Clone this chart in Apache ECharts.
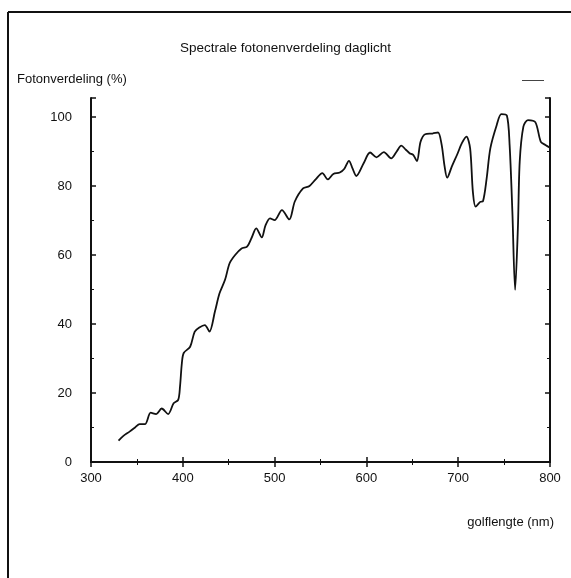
<!DOCTYPE html>
<html>
<head>
<meta charset="utf-8">
<script src="https://cdn.jsdelivr.net/npm/echarts@6/dist/echarts.min.js"></script>
<style>
  html, body { margin: 0; padding: 0; background: #fff; }
  #chart { width: 571px; height: 578px; }
</style>
</head>
<body>
<div id="chart"></div>
<script>
// wavelength (nm) and relative photon distribution (%)
const wavelengths = [
  330, 335, 342, 348, 353, 359, 365, 371, 377, 384, 390, 395, 397, 399, 401,
  408, 413, 418, 424, 429, 435, 440, 446, 451, 457, 464, 470, 475, 480, 486,
  490, 495, 500, 508, 516, 522, 531, 538, 545, 552, 558, 564, 571, 576, 581,
  585, 589, 597, 604, 611, 619, 627, 633, 638, 643, 647, 651, 655, 659, 664,
  672, 678, 682, 685, 688, 693, 699, 704, 709, 713, 716, 719, 724, 727, 731,
  735, 742, 747, 753, 756, 759, 762, 765, 767, 771, 776, 784, 790, 795, 800
];
const photonValues = [
  6.2, 7.5, 8.8, 10, 11, 11, 14.3, 13.9, 15.5, 13.9, 17, 18, 22, 28.7, 31.6,
  33.4, 37.8, 39, 39.7, 37.8, 43.6, 48.9, 52.8, 57.6, 60, 61.9, 62.4, 65, 67.7, 65.1,
  68.5, 70.6, 70.1, 73, 70.3, 75.5, 79.3, 80, 82, 83.7, 81.9, 83.5, 83.9, 85, 87.3,
  85, 82.9, 86.6, 89.7, 88.3, 89.8, 88, 90, 91.7, 90.5, 89.5, 89, 87.2, 92.8, 95,
  95.2, 95.5, 91.9, 86, 82.4, 85.6, 89.2, 92.4, 94.3, 90.9, 78.3, 74, 75.4, 75.6, 82.2,
  90.9, 97.7, 100.8, 100.4, 91.9, 72.6, 49.9, 67.7, 87, 97.2, 99.1, 98.5, 92.8, 91.9, 91.1
];
const xTicks = [300, 400, 500, 600, 700, 800];
const yTicks = [0, 20, 40, 60, 80, 100];

const font = '"Liberation Sans", Arial, sans-serif';
const ink = '#111';

const tickStyle = {
  axisLine: { show: true, lineStyle: { color: ink, width: 2 } },
  axisTick: { show: true, inside: true, length: 5, lineStyle: { color: ink, width: 1.5 } },
  minorTick: { show: true, splitNumber: 2, length: 3, lineStyle: { color: ink, width: 1 } },
  splitLine: { show: false },
};

const chart = echarts.init(document.getElementById('chart'));
chart.setOption({
  backgroundColor: '#fff',
  animation: false,
  title: {
    text: 'Spectrale fotonenverdeling daglicht',
    left: 'center',
    top: 36,
    textStyle: { fontFamily: font, fontSize: 13.5, fontWeight: 'normal', color: ink },
  },
  legend: {
    right: 22,
    top: 75,
    icon: 'rect',
    itemWidth: 22,
    itemHeight: 1,
    formatter: () => '',
    textStyle: { fontSize: 1 },
    data: ['daglicht'],
  },
  grid: { left: 91, right: 21, top: 98, bottom: 116 },
  xAxis: [
    {
      type: 'value',
      min: 300,
      max: 800,
      interval: 100,
      name: 'golflengte (nm)',
      nameLocation: 'end',
      nameGap: 0,
      nameTextStyle: {
        fontFamily: font, fontSize: 13, color: ink,
        align: 'right', verticalAlign: 'top', padding: [54, -4, 0, 0],
      },
      ...tickStyle,
      axisLabel: {
        fontFamily: font, fontSize: 13, color: ink, margin: 10,
        formatter: (v) => (xTicks.includes(v) ? String(v) : ''),
      },
    },
    {
      type: 'value',
      position: 'top',
      min: 300,
      max: 800,
      interval: 100,
      ...tickStyle,
      axisLabel: { show: false },
    },
  ],
  yAxis: [
    {
      type: 'value',
      min: 0,
      max: 105.5,
      interval: 20,
      name: 'Fotonverdeling (%)',
      nameLocation: 'end',
      nameGap: 12,
      nameTextStyle: {
        fontFamily: font, fontSize: 13, color: ink,
        align: 'left', padding: [0, 0, 0, -74],
      },
      ...tickStyle,
      axisLabel: {
        fontFamily: font, fontSize: 13, color: ink, margin: 19,
        showMaxLabel: false,
        formatter: (v) => (yTicks.includes(v) ? String(v) : ''),
      },
    },
    {
      type: 'value',
      position: 'right',
      min: 0,
      max: 105.5,
      interval: 20,
      ...tickStyle,
      axisLabel: { show: false },
    },
  ],
  graphic: [
    { type: 'line', shape: { x1: 8, y1: 12, x2: 8, y2: 578 }, style: { stroke: ink, lineWidth: 2 } },
    { type: 'line', shape: { x1: 8, y1: 12, x2: 571, y2: 12 }, style: { stroke: ink, lineWidth: 2 } },
  ],
  series: [
    {
      name: 'daglicht',
      type: 'line',
      data: wavelengths.map((w, i) => [w, photonValues[i]]),
      showSymbol: false,
      smooth: 0.3,
      color: '#444',
      lineStyle: { color: ink, width: 1.8 },
    },
  ],
});
</script>
</body>
</html>
